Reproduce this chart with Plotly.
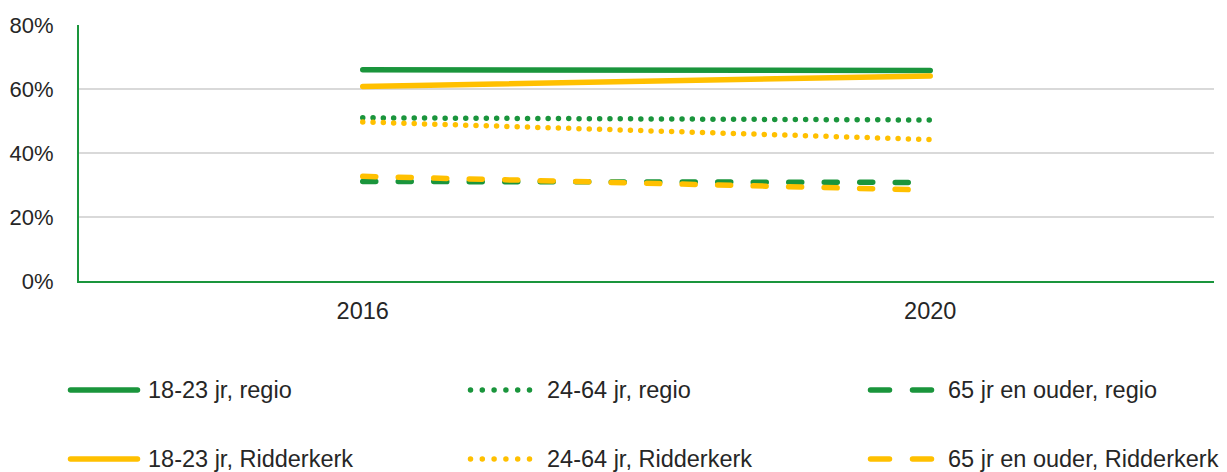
import plotly.graph_objects as go

# ---- data ----
years = ["2016", "2020"]
regio_18_23 = [66.0, 65.8]
regio_24_64 = [51.0, 50.3]
regio_65 = [31.1, 30.8]
ridd_18_23 = [60.8, 64.1]
ridd_24_64 = [49.7, 44.2]
ridd_65 = [32.7, 28.4]

names = ["18-23 jr, regio", "24-64 jr, regio", "65 jr en ouder, regio",
         "18-23 jr, Ridderkerk", "24-64 jr, Ridderkerk", "65 jr en ouder, Ridderkerk"]
series = [regio_18_23, regio_24_64, regio_65, ridd_18_23, ridd_24_64, ridd_65]

GREEN = "#1a953c"
YELLOW = "#ffc000"
colors = [GREEN, GREEN, GREEN, YELLOW, YELLOW, YELLOW]
plot_dash = ["solid", "0px,10.3px", "13px,22.5px"] * 2
legend_dash = ["solid", "0px,11.8px", "19px,23px"] * 2

FONT = "Liberation Sans, Arial, sans-serif"
TXT = "#262626"

W, H = 1227, 472
ML, MR, MT, MB = 79, 13, 25, 191
PW, PH = W - ML - MR, H - MT - MB

def px_x(px):
    return (px - ML) / PW

def px_y(py):
    return (H - MB - py) / PH

fig = go.Figure()
for name, vals, col, dsh in zip(names, series, colors, plot_dash):
    fig.add_trace(go.Scatter(x=years, y=vals, name=name, mode="lines",
                             line=dict(color=col, width=5.5, dash=dsh),
                             showlegend=False))

# custom legend (shapes + text)
col_x = [(70.5, 137.5, 146), (470.5, 530.5, 545), (870.5, 932, 946)]
row_y = [390, 459]
shapes = []
annotations = []
for i, (name, col, dsh) in enumerate(zip(names, colors, legend_dash)):
    r, c = divmod(i, 3)
    x0, x1, tx = col_x[c]
    y = row_y[r]
    shapes.append(dict(type="line", xref="paper", yref="paper",
                       x0=px_x(x0), x1=px_x(x1), y0=px_y(y), y1=px_y(y),
                       line=dict(color=col, width=5.5, dash=dsh)))
    annotations.append(dict(text=name, xref="paper", yref="paper",
                            x=px_x(tx), y=px_y(y), xanchor="left", yanchor="middle",
                            showarrow=False,
                            font=dict(size=23.5, color=TXT, family=FONT)))

fig.update_layout(
    width=W, height=H, autosize=False,
    margin=dict(l=ML, r=MR, t=MT, b=MB, pad=0, autoexpand=False),
    plot_bgcolor="white", paper_bgcolor="white",
    font=dict(family=FONT, size=22, color=TXT),
    shapes=shapes, annotations=annotations, showlegend=False,
)
fig.update_xaxes(type="category", range=[-0.5, 1.5], showgrid=False, automargin=False,
                 showline=True, linecolor=GREEN, linewidth=2, ticks="",
                 ticklabelstandoff=8, tickfont=dict(size=23.5, color=TXT, family=FONT))
fig.update_yaxes(range=[0, 80], dtick=20, ticksuffix="%", showgrid=True, automargin=False,
                 gridcolor="#d9d9d9", gridwidth=1.5, zeroline=False,
                 showline=True, linecolor=GREEN, linewidth=2, ticks="",
                 ticklabelstandoff=19, tickfont=dict(size=22, color=TXT, family=FONT))

post = """
document.body.style.margin = '0';
document.body.style.padding = '0';
var gd = document.getElementById('{plot_id}');
function rc(){ gd.querySelectorAll('path.js-line, .shapelayer path').forEach(function(p){p.style.strokeLinecap='round';}); }
rc(); gd.on('plotly_afterplot', rc);
"""
fig.write_html("out.html", post_script=post, config={"displayModeBar": False})
